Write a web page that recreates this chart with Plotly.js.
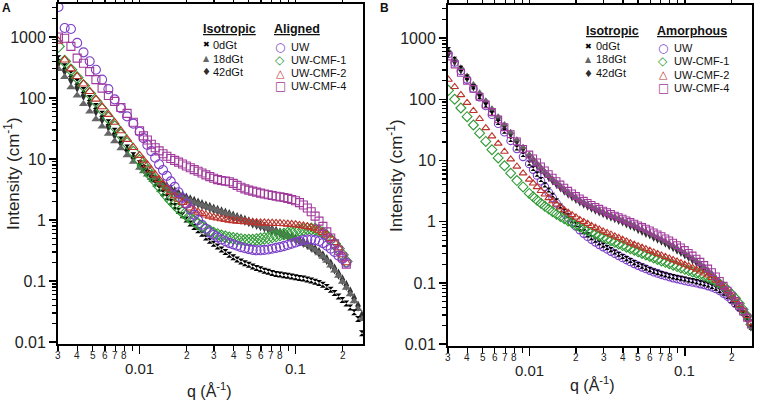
<!DOCTYPE html>
<html>
<head>
<meta charset="utf-8">
<script src="https://cdn.plot.ly/plotly-3.0.1.min.js"></script>
<style>
  html, body { margin: 0; padding: 0; background: #ffffff; }
  #chart { width: 758px; height: 402px; }
</style>
</head>
<body>
<div id="chart"></div>
<script>
// q values (1/Å) shared by all series
const qValues = [
  0.00302, 0.00331, 0.00363, 0.00398, 0.00437, 0.00479, 0.00525, 0.00575, 0.00631, 0.00692, 0.00759, 0.00832, 0.00912,
  0.01000, 0.01059, 0.01122, 0.01189, 0.01259, 0.01334, 0.01413, 0.01496, 0.01585, 0.01679,
  0.01778, 0.01884, 0.01995, 0.02113, 0.02239, 0.02371, 0.02512, 0.02661, 0.02818, 0.02985,
  0.03162, 0.03350, 0.03548, 0.03758, 0.03981, 0.04217, 0.04467, 0.04732, 0.05012, 0.05309,
  0.05623, 0.05957, 0.06310, 0.06683, 0.07079, 0.07499, 0.07943, 0.08414, 0.08913, 0.09441,
  0.1000, 0.1059, 0.1122, 0.1189, 0.1259, 0.1334, 0.1413, 0.1496, 0.1585, 0.1679,
  0.1778, 0.1884, 0.1995, 0.2113, 0.2239, 0.2371, 0.2512, 0.2661
];

// Panel A - isotropic references
const aIso0 = [
  450, 330, 250, 185, 135, 100, 74, 55, 40, 29, 21, 15.5, 11.5,
  8.5, 7.1, 5.9, 4.8, 4.0, 3.3, 2.8, 2.4, 2.0, 1.7,
  1.42, 1.2, 1.02, 0.88, 0.77, 0.68, 0.6, 0.52, 0.46, 0.41,
  0.37, 0.33, 0.3, 0.27, 0.245, 0.226, 0.21, 0.197, 0.185, 0.174,
  0.164, 0.156, 0.148, 0.142, 0.136, 0.131, 0.128, 0.125, 0.122, 0.119,
  0.116, 0.113, 0.11, 0.106, 0.102, 0.098, 0.093, 0.087, 0.08, 0.072,
  0.064, 0.056, 0.049, 0.043, 0.037, 0.031, 0.024, 0.014
];
const aIso18 = [
  300, 220, 150, 110, 80, 60, 45, 34, 26, 19.5, 15, 11.5, 9,
  7.2, 6.3, 5.6, 4.9, 4.4, 3.95, 3.6, 3.3, 3.0, 2.75,
  2.55, 2.35, 2.2, 2.07, 1.95, 1.85, 1.75, 1.66, 1.58, 1.5,
  1.42, 1.35, 1.28, 1.22, 1.15, 1.09, 1.03, 0.98, 0.93, 0.89,
  0.85, 0.81, 0.77, 0.73, 0.69, 0.65, 0.61, 0.58, 0.55, 0.51,
  0.48, 0.45, 0.42, 0.39, 0.355, 0.32, 0.285, 0.25, 0.215, 0.18,
  0.15, 0.122, 0.098, 0.078, 0.061, 0.047, 0.035, 0.024
];
const aIso42 = [
  380, 280, 200, 150, 110, 82, 61, 45, 34, 25, 18.5, 14, 10.5,
  8.0, 7.0, 6.1, 5.35, 4.75, 4.25, 3.85, 3.5, 3.2, 2.92,
  2.68, 2.47, 2.3, 2.15, 2.02, 1.9, 1.8, 1.7, 1.61, 1.52,
  1.44, 1.37, 1.3, 1.23, 1.16, 1.1, 1.04, 0.99, 0.94, 0.89,
  0.85, 0.81, 0.77, 0.73, 0.69, 0.655, 0.62, 0.585, 0.55, 0.52,
  0.49, 0.46, 0.43, 0.4, 0.365, 0.33, 0.295, 0.26, 0.225, 0.19,
  0.158, 0.13, 0.105, 0.085, 0.067, 0.052, 0.039, 0.027
];

// Panel A - aligned samples (measured up to q ~ 0.21)
const aUW = [
  3100, 1400, 1350, 800, 560, 400, 290, 200, 140, 95, 68, 50, 38,
  28, 22, 17, 13.5, 10.5, 8.2, 6.6, 5.3, 4.3, 3.5,
  2.85, 2.3, 1.85, 1.5, 1.22, 1.0, 0.84, 0.72, 0.63, 0.57,
  0.52, 0.48, 0.45, 0.42, 0.4, 0.38, 0.36, 0.345, 0.335, 0.325,
  0.32, 0.32, 0.325, 0.33, 0.34, 0.35, 0.36, 0.375, 0.39, 0.41,
  0.43, 0.45, 0.47, 0.48, 0.48, 0.47, 0.45, 0.42, 0.38, 0.34,
  0.3, 0.26, 0.23, 0.2
];
const aCMF1 = [
  700, 400, 290, 215, 160, 118, 88, 65, 47, 34, 25, 18, 13,
  9.5, 7.8, 6.4, 5.3, 4.4, 3.6, 3.0, 2.5, 2.1, 1.8,
  1.55, 1.35, 1.2, 1.07, 0.96, 0.87, 0.79, 0.72, 0.66, 0.61,
  0.58, 0.55, 0.53, 0.51, 0.5, 0.49, 0.48, 0.47, 0.47, 0.47,
  0.48, 0.49, 0.5, 0.51, 0.53, 0.55, 0.57, 0.59, 0.61, 0.63,
  0.66, 0.68, 0.7, 0.72, 0.72, 0.71, 0.67, 0.62, 0.55, 0.48,
  0.41, 0.34, 0.27, 0.21
];
const aCMF2 = [
  850, 420, 300, 225, 170, 128, 96, 72, 54, 40, 29, 21, 15.5,
  11.5, 9.6, 8.0, 6.6, 5.5, 4.6, 3.9, 3.35, 2.9, 2.5,
  2.2, 1.95, 1.75, 1.58, 1.45, 1.35, 1.28, 1.21, 1.16, 1.11,
  1.08, 1.05, 1.02, 1.0, 0.98, 0.96, 0.95, 0.94, 0.93, 0.92,
  0.91, 0.9, 0.9, 0.89, 0.89, 0.88, 0.88, 0.87, 0.86, 0.85,
  0.84, 0.82, 0.8, 0.78, 0.75, 0.72, 0.68, 0.63, 0.57, 0.5,
  0.43, 0.35, 0.27, 0.2
];
const aCMF4 = [
  1000, 950, 700, 450, 370, 270, 200, 145, 110, 88, 70, 56, 40,
  29, 24, 20.5, 17.5, 15.3, 13.6, 12.2, 11.1, 10.2, 9.5,
  8.9, 8.3, 7.7, 7.2, 6.7, 6.3, 5.9, 5.5, 5.15, 4.85,
  4.6, 4.45, 4.35, 4.25, 4.0, 3.7, 3.45, 3.25, 3.1, 2.98,
  2.87, 2.77, 2.68, 2.6, 2.53, 2.46, 2.4, 2.34, 2.27, 2.18,
  2.07, 1.93, 1.77, 1.58, 1.37, 1.16, 0.96, 0.79, 0.64, 0.51,
  0.41, 0.32, 0.25, 0.19
];

// Panel B - isotropic references
const bIso0 = [
  650, 450, 320, 230, 160, 110, 80, 58, 42, 30, 22, 16, 12.5,
  9.0, 7.4, 6.0, 4.9, 4.0, 3.3, 2.7, 2.2, 1.8, 1.5,
  1.25, 1.05, 0.9, 0.78, 0.69, 0.61, 0.55, 0.5, 0.455, 0.415,
  0.38, 0.35, 0.32, 0.295, 0.27, 0.25, 0.232, 0.215, 0.2, 0.188,
  0.176, 0.165, 0.156, 0.149, 0.142, 0.136, 0.131, 0.127, 0.123, 0.119,
  0.116, 0.112, 0.109, 0.105, 0.101, 0.097, 0.093, 0.088, 0.082, 0.075,
  0.068, 0.06, 0.052, 0.045, 0.038, 0.032, 0.026, 0.019
];
const bIso18 = [
  620, 450, 330, 240, 175, 128, 95, 70, 52, 39, 29, 22, 16.5,
  12.5, 10.6, 9.0, 7.7, 6.6, 5.7, 5.0, 4.4, 3.85, 3.4,
  3.05, 2.75, 2.5, 2.28, 2.1, 1.94, 1.8, 1.67, 1.56, 1.46,
  1.37, 1.29, 1.21, 1.14, 1.07, 1.0, 0.94, 0.88, 0.8, 0.75,
  0.7, 0.65, 0.6, 0.56, 0.52, 0.48, 0.44, 0.405, 0.37, 0.34,
  0.31, 0.28, 0.255, 0.23, 0.205, 0.182, 0.16, 0.14, 0.12, 0.102,
  0.086, 0.072, 0.06, 0.05, 0.041, 0.034, 0.027, 0.02
];
const bIso42 = [
  560, 410, 300, 220, 160, 118, 88, 65, 48, 36, 27, 20.5, 15.5,
  11.8, 10.0, 8.5, 7.2, 6.2, 5.35, 4.65, 4.1, 3.6, 3.17,
  2.84, 2.56, 2.33, 2.12, 1.95, 1.8, 1.67, 1.55, 1.45, 1.36,
  1.27, 1.2, 1.13, 1.06, 1.0, 0.93, 0.87, 0.82, 0.75, 0.7,
  0.65, 0.61, 0.56, 0.52, 0.485, 0.45, 0.41, 0.38, 0.345, 0.318,
  0.29, 0.263, 0.238, 0.215, 0.192, 0.17, 0.15, 0.132, 0.114, 0.097,
  0.082, 0.069, 0.058, 0.048, 0.04, 0.033, 0.026, 0.019
];

// Panel B - amorphous samples
const bUW = [
  550, 400, 290, 210, 150, 108, 78, 56, 40, 29, 21, 15.5, 11.5,
  8.8, 7.1, 5.7, 4.6, 3.7, 3.0, 2.45, 2.0, 1.65, 1.37,
  1.15, 0.98, 0.84, 0.73, 0.64, 0.57, 0.51, 0.46, 0.42, 0.385,
  0.355, 0.325, 0.3, 0.277, 0.256, 0.237, 0.22, 0.205, 0.192, 0.18,
  0.169, 0.159, 0.15, 0.143, 0.136, 0.13, 0.125, 0.12, 0.116, 0.112,
  0.108, 0.105, 0.102, 0.099, 0.096, 0.093, 0.089, 0.085, 0.08, 0.074,
  0.067, 0.06, 0.053, 0.046, 0.04, 0.034, 0.028, 0.022
];
const bCMF1 = [
  140, 100, 72, 52, 38, 28, 20.5, 15, 11, 8.2, 6.2, 4.7, 3.7,
  2.9, 2.55, 2.25, 2.0, 1.79, 1.61, 1.46, 1.33, 1.22, 1.12,
  1.03, 0.95, 0.88, 0.82, 0.765, 0.715, 0.67, 0.63, 0.59, 0.555,
  0.52, 0.49, 0.46, 0.433, 0.408, 0.384, 0.362, 0.342, 0.322, 0.304,
  0.287, 0.271, 0.256, 0.242, 0.229, 0.217, 0.206, 0.195, 0.185, 0.176,
  0.167, 0.159, 0.151, 0.144, 0.137, 0.13, 0.123, 0.115, 0.106, 0.097,
  0.087, 0.077, 0.066, 0.056, 0.046, 0.037, 0.029, 0.021
];
const bCMF2 = [
  210, 160, 118, 88, 65, 48, 34, 25, 19, 14, 10.5, 8, 6.2,
  4.9, 4.25, 3.7, 3.2, 2.8, 2.45, 2.17, 1.93, 1.72, 1.55,
  1.41, 1.29, 1.18, 1.08, 1.0, 0.93, 0.86, 0.8, 0.75, 0.7,
  0.66, 0.62, 0.58, 0.545, 0.51, 0.48, 0.45, 0.425, 0.4, 0.378,
  0.357, 0.337, 0.318, 0.3, 0.283, 0.267, 0.252, 0.238, 0.225, 0.212,
  0.2, 0.188, 0.177, 0.166, 0.155, 0.144, 0.133, 0.122, 0.11, 0.098,
  0.086, 0.074, 0.063, 0.053, 0.044, 0.036, 0.029, 0.022
];
const bCMF4 = [
  500, 370, 270, 200, 148, 110, 82, 62, 47, 35, 27, 20.5, 15.5,
  12.5, 10.8, 9.3, 8.0, 6.9, 6.0, 5.25, 4.6, 4.05, 3.6,
  3.2, 2.9, 2.63, 2.4, 2.2, 2.03, 1.88, 1.75, 1.63, 1.52,
  1.43, 1.34, 1.26, 1.19, 1.12, 1.05, 0.99, 0.93, 0.87, 0.82,
  0.77, 0.72, 0.67, 0.62, 0.58, 0.535, 0.495, 0.455, 0.415, 0.38,
  0.345, 0.31, 0.28, 0.25, 0.222, 0.196, 0.172, 0.15, 0.128, 0.108,
  0.09, 0.075, 0.062, 0.051, 0.042, 0.034, 0.027, 0.021
];

// Legend texts
const isoNames = ["0dGt", "18dGt", "42dGt"];
const sampleNames = ["UW", "UW-CMF-1", "UW-CMF-2", "UW-CMF-4"];

// Axis ticks
const yDecades = [0.01, 0.1, 1, 10, 100, 1000];
const yDecadeText = ["0.01", "0.1", "1", "10", "100", "1000"];
const yMinorDigits = [2, 3, 4, 5, 6, 7, 8, 9];
const xDecades = [0.01, 0.1];
const xDecadeText = ["0.01", "0.1"];
const xMinorVals = [0.003, 0.004, 0.005, 0.006, 0.007, 0.008, 0.009,
  0.02, 0.03, 0.04, 0.05, 0.06, 0.07, 0.08, 0.09, 0.2];
const xDigitVals = [0.003, 0.004, 0.005, 0.006, 0.007, 0.008,
  0.02, 0.03, 0.04, 0.05, 0.06, 0.07, 0.08, 0.2];
const xDigitText = ["3", "4", "5", "6", "7", "8", "2", "3", "4", "5", "6", "7", "8", "2"];

// Marker styles (isotropic, then samples)
const isoStyles = [
  { symbol: "hourglass", color: "#000000", size: 6, open: false, glyph: "\u2716", glyphSize: 8 },
  { symbol: "triangle-up", color: "#666666", size: 8, open: false, glyph: "\u25B2", glyphSize: 8 },
  { symbol: "diamond-tall", color: "#2e2e2e", size: 8, open: false, glyph: "\u2666", glyphSize: 10 }
];
const sampleStyles = [
  { symbol: "circle-open", color: "#7b3fc8", size: 9, open: true, glyph: "\u25CB", glyphSize: 12 },
  { symbol: "diamond-open", color: "#2f9a35", size: 9, open: true, glyph: "\u25C7", glyphSize: 12 },
  { symbol: "triangle-up-open", color: "#bd332b", size: 8, open: true, glyph: "\u25B3", glyphSize: 11 },
  { symbol: "square-open", color: "#a13a9c", size: 8, open: true, glyph: "\u25A1", glyphSize: 12 }
];

const W = 758, H = 402;
const px = x => x / W;
const py = y => 1 - y / H;
const FONT = "Liberation Sans, Arial, sans-serif";

// One scatter trace of markers
function markerTrace(values, style, axis, scale) {
  return {
    type: "scatter",
    mode: "markers",
    x: qValues.slice(0, values.length),
    y: values,
    xaxis: "x" + axis,
    yaxis: "y" + axis,
    hoverinfo: "skip",
    showlegend: false,
    marker: {
      symbol: style.symbol,
      size: style.size * scale,
      color: style.color,
      line: { width: style.open ? 1.1 : 0, color: style.color }
    }
  };
}

function xAxis(left, right, anchor) {
  return {
    type: "log",
    domain: [px(left), px(right)],
    range: [Math.log10(0.003), -0.568],
    anchor: anchor,
    showline: true, linewidth: 2, linecolor: "#000", mirror: "allticks",
    showgrid: false, zeroline: false,
    ticks: "outside", ticklen: 8, tickwidth: 1.5, tickcolor: "#000",
    tickmode: "array", tickvals: xDecades, showticklabels: false,
    minor: { tickmode: "array", tickvals: xMinorVals, ticks: "outside", ticklen: 5, tickwidth: 1.3, tickcolor: "#000" }
  };
}

function yAxis(top, bottom, anchor) {
  const minorVals = [];
  yDecades.forEach(d => yMinorDigits.forEach(m => minorVals.push(d * m)));
  return {
    type: "log",
    domain: [py(bottom), py(top)],
    range: [-2.03, 3.54],
    anchor: anchor,
    showline: true, linewidth: 2, linecolor: "#000", mirror: true,
    showgrid: false, zeroline: false,
    ticks: "outside", ticklen: 7, tickwidth: 1.5, tickcolor: "#000",
    tickmode: "array", tickvals: yDecades, ticktext: yDecadeText,
    tickfont: { family: FONT, size: 16, color: "#222" },
    minor: { tickmode: "array", tickvals: minorVals, ticks: "outside", ticklen: 4, tickwidth: 1.2, tickcolor: "#000" }
  };
}

// x tick labels: small digits under minor ticks, larger text under decades
function xLabels(axis, digitY, decadeY) {
  const digits = xDigitVals.map((v, i) => ({
    xref: "x" + axis, yref: "paper",
    x: Math.log10(v), y: py(digitY),
    text: xDigitText[i], showarrow: false,
    xanchor: "center", yanchor: "middle",
    font: { family: FONT, size: 10, color: "#222" }
  }));
  const decades = xDecades.map((v, i) => ({
    xref: "x" + axis, yref: "paper",
    x: Math.log10(v), y: py(decadeY),
    text: xDecadeText[i], showarrow: false,
    xanchor: "center", yanchor: "middle",
    font: { family: FONT, size: 15, color: "#222" }
  }));
  return digits.concat(decades);
}

function text(x, y, str, opts = {}) {
  return Object.assign({
    xref: "paper", yref: "paper", x: px(x), y: py(y), text: str,
    showarrow: false, xanchor: "center", yanchor: "middle", borderpad: 0,
    font: { family: FONT, size: 12, color: "#111" }
  }, opts);
}

// Legend block built from annotation texts
function legendBlock(header, names, styles, pos) {
  const out = [text(pos.headerX, pos.headerY, `<b><u>${header}</u></b>`,
    { xanchor: "left", font: { family: FONT, size: 12.5, color: "#111" } })];
  names.forEach((name, i) => {
    const y = pos.firstY + i * pos.step;
    out.push(text(pos.glyphX, y, styles[i].glyph,
      { font: { family: "DejaVu Sans", size: styles[i].glyphSize, color: styles[i].color } }));
    out.push(text(pos.textX, y, name,
      { xanchor: "left", font: { family: FONT, size: 11, color: "#111" } }));
  });
  return out;
}

function buildTraces() {
  const traces = [];
  // 42dGt sits underneath 18dGt, which sits underneath 0dGt
  const isoOrder = [2, 1, 0];
  const aIso = [aIso0, aIso18, aIso42];
  const aSamples = [aCMF1, aCMF2, aUW, aCMF4];
  const aOrder = [1, 2, 0, 3];
  isoOrder.forEach(i => traces.push(markerTrace(aIso[i], isoStyles[i], "", 1)));
  aSamples.forEach((vals, i) => traces.push(markerTrace(vals, sampleStyles[aOrder[i]], "", 1)));

  const bIso = [bIso0, bIso18, bIso42];
  traces.push(markerTrace(bUW, sampleStyles[0], "2", 0.85));
  isoOrder.forEach(i => traces.push(markerTrace(bIso[i], isoStyles[i], "2", 0.85)));
  [bCMF1, bCMF2, bCMF4].forEach((vals, i) => traces.push(markerTrace(vals, sampleStyles[i + 1], "2", 0.85)));
  return traces;
}

function buildAnnotations() {
  return [
    ...xLabels("", 355, 368),
    ...xLabels("2", 357, 370),
    text(12, 174, "Intensity (cm<sup>-1</sup>)", { textangle: -90, font: { family: FONT, size: 17, color: "#222" } }),
    text(395, 176, "Intensity (cm<sup>-1</sup>)", { textangle: -90, font: { family: FONT, size: 17, color: "#222" } }),
    text(209, 390, "q (Å<sup>-1</sup>)", { font: { family: FONT, size: 16, color: "#222" } }),
    text(592, 384, "q (Å<sup>-1</sup>)", { font: { family: FONT, size: 16, color: "#222" } }),
    text(6, 8, "<b>A</b>", { font: { family: FONT, size: 12, color: "#111" } }),
    text(384, 8, "<b>B</b>", { font: { family: FONT, size: 12, color: "#111" } }),
    ...legendBlock("Isotropic", isoNames, isoStyles, { headerX: 202, headerY: 29, glyphX: 206, textX: 212, firstY: 45, step: 13.5 }),
    ...legendBlock("Aligned", sampleNames, sampleStyles, { headerX: 273, headerY: 29, glyphX: 280, textX: 290, firstY: 47, step: 13 }),
    ...legendBlock("Isotropic", isoNames, isoStyles, { headerX: 585, headerY: 31, glyphX: 588, textX: 595, firstY: 46, step: 13.5 }),
    ...legendBlock("Amorphous", sampleNames, sampleStyles, { headerX: 656, headerY: 31, glyphX: 663, textX: 673, firstY: 48, step: 13.3 })
  ];
}

function render() {
  const layout = {
    width: W, height: H,
    margin: { l: 0, r: 0, t: 0, b: 0 },
    paper_bgcolor: "#ffffff", plot_bgcolor: "#ffffff",
    font: { family: FONT, color: "#222" },
    showlegend: false,
    xaxis: xAxis(58, 363, "y"),
    yaxis: yAxis(4, 344, "x"),
    xaxis2: xAxis(448, 752, "y2"),
    yaxis2: yAxis(5, 346, "x2"),
    annotations: buildAnnotations()
  };
  Plotly.newPlot("chart", buildTraces(), layout, { displayModeBar: false, staticPlot: true });
}

render();
</script>
</body>
</html>
